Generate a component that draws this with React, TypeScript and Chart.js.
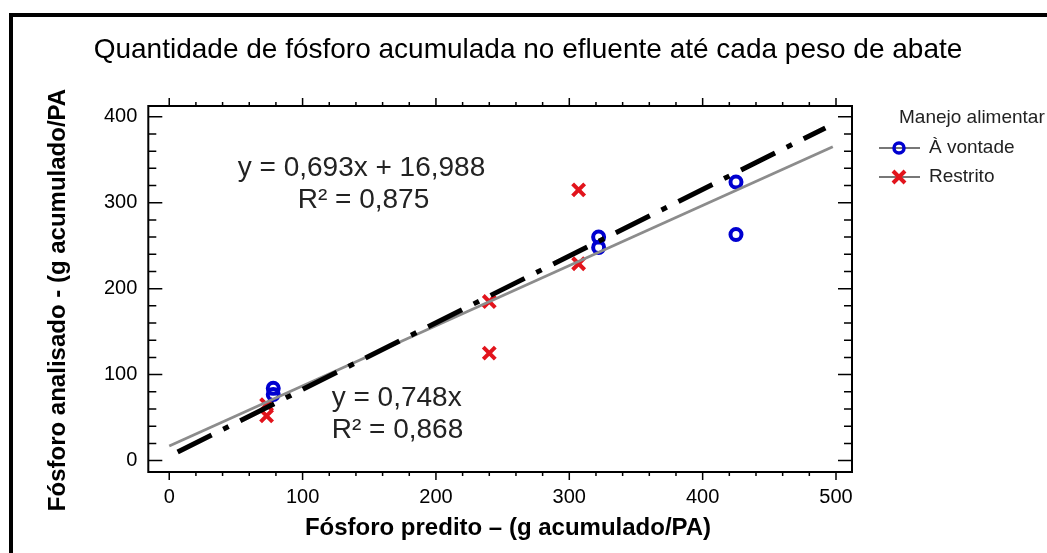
import React, { useEffect, useRef } from 'react';
import { Chart, registerables } from 'chart.js';

Chart.register(...registerables);

// ---------- texts ----------
const TITLE = 'Quantidade de fósforo acumulada no efluente até cada peso de abate';
const X_TITLE = 'Fósforo predito – (g acumulado/PA)';
const Y_TITLE = 'Fósforo analisado - (g acumulado/PA';
const LEGEND_TITLE = 'Manejo alimentar';
const SERIES_NAMES = ['À vontade', 'Restrito'];
const EQ_ALL = ['y = 0,693x + 16,988', 'R² = 0,875'];
const EQ_ORIGIN = ['y = 0,748x', 'R² = 0,868'];

// ---------- axes ----------
const X_TICKS = [0, 100, 200, 300, 400, 500];
const Y_TICKS = [0, 100, 200, 300, 400];
const X_MIN = -15.7;
const X_MAX = 512;
const Y_MIN = -13.3;
const Y_MAX = 412.5;
const MINOR_STEP = 20;

// ---------- data ----------
const VONTADE_X = [78, 78, 322, 322, 425, 425];
const VONTADE_Y = [84, 77, 260, 248, 324, 263];
const RESTRITO_X = [73, 73, 240, 240, 307, 307];
const RESTRITO_Y = [65, 52, 185, 125, 315, 229];

// regression lines (end points as seen in the picture)
const FIT_ALL_X = [0, 497.6];
const FIT_ALL_Y = [17, 365];
const FIT_ORIGIN_X = [6.3, 492];
const FIT_ORIGIN_Y = [10, 387];

// ---------- styles ----------
const FONT = '"Liberation Sans", Arial, Helvetica, sans-serif';
const BLUE = '#0000d0';
const RED = '#e2141c';
const GRAY = '#8c8c8c';

const toPts = (xs: number[], ys: number[]) => xs.map((x, i) => ({ x, y: ys[i] }));

const decorPlugin = {
  id: 'decor',
  afterDraw(chart: any) {
    const { ctx, chartArea: a, scales } = chart;
    const xs = scales.x;
    const ys = scales.y;
    ctx.save();
    // frame
    ctx.strokeStyle = '#000';
    ctx.lineWidth = 2;
    ctx.strokeRect(a.left, a.top, a.right - a.left, a.bottom - a.top);
    // ticks
    ctx.lineWidth = 1.5;
    ctx.beginPath();
    for (let v = 0; v <= X_MAX; v += MINOR_STEP) {
      const px = xs.getPixelForValue(v);
      const major = v % 100 === 0;
      const len = major ? 8 : 4;
      ctx.moveTo(px, a.bottom);
      ctx.lineTo(px, a.bottom + len);
      ctx.moveTo(px, a.top);
      ctx.lineTo(px, a.top - len);
    }
    for (let v = 0; v <= Y_MAX; v += MINOR_STEP) {
      const py = ys.getPixelForValue(v);
      const major = v % 100 === 0;
      const len = major ? 14 : 8;
      ctx.moveTo(a.left, py);
      ctx.lineTo(a.left + len, py);
      ctx.moveTo(a.right, py);
      ctx.lineTo(a.right - len, py);
    }
    ctx.stroke();

    // axis titles
    ctx.fillStyle = '#000';
    ctx.font = `bold 24px ${FONT}`;
    ctx.textAlign = 'center';
    ctx.textBaseline = 'middle';
    ctx.fillText(X_TITLE, 508, 528);
    ctx.save();
    ctx.translate(58, 300);
    ctx.rotate(-Math.PI / 2);
    ctx.fillText(Y_TITLE, 0, 0);
    ctx.restore();

    // equations
    ctx.fillStyle = '#222';
    ctx.font = `28px ${FONT}`;
    ctx.fillText(EQ_ALL[0], 361.5, 168);
    ctx.fillText(EQ_ALL[1], 363.5, 200);
    ctx.fillText(EQ_ORIGIN[0], 396.7, 398);
    ctx.fillText(EQ_ORIGIN[1], 397.5, 430);

    // legend
    ctx.textAlign = 'left';
    ctx.font = `19px ${FONT}`;
    ctx.fillText(LEGEND_TITLE, 899, 118);
    const rows = [148, 177];
    rows.forEach((y, i) => {
      ctx.strokeStyle = '#777';
      ctx.lineWidth = 2;
      ctx.beginPath();
      ctx.moveTo(879, y);
      ctx.lineTo(920, y);
      ctx.stroke();
      if (i === 0) {
        ctx.strokeStyle = BLUE;
        ctx.lineWidth = 3.5;
        ctx.beginPath();
        ctx.arc(899, y, 5, 0, Math.PI * 2);
        ctx.stroke();
      } else {
        ctx.strokeStyle = RED;
        ctx.lineWidth = 4;
        ctx.beginPath();
        ctx.moveTo(893, y - 6);
        ctx.lineTo(905, y + 6);
        ctx.moveTo(905, y - 6);
        ctx.lineTo(893, y + 6);
        ctx.stroke();
      }
      ctx.fillStyle = '#222';
      ctx.fillText(SERIES_NAMES[i], 929, y);
    });
    ctx.restore();
  },
};

export default function App() {
  const ref = useRef<HTMLCanvasElement | null>(null);

  useEffect(() => {
    if (!ref.current) return;
    const chart = new Chart(ref.current, {
      type: 'scatter',
      data: {
        datasets: [
          {
            label: 'fit-origin',
            data: toPts(FIT_ORIGIN_X, FIT_ORIGIN_Y),
            showLine: true,
            borderColor: '#000',
            borderWidth: 5,
            borderDash: [38, 13, 6, 13],
            borderCapStyle: 'butt',
            pointRadius: 0,
            fill: false,
          },
          {
            label: 'fit-all',
            data: toPts(FIT_ALL_X, FIT_ALL_Y),
            showLine: true,
            borderColor: GRAY,
            borderWidth: 2.8,
            pointRadius: 0,
            fill: false,
          },
          {
            label: SERIES_NAMES[0],
            data: toPts(VONTADE_X, VONTADE_Y),
            showLine: false,
            pointStyle: 'circle',
            pointRadius: 5.5,
            pointBorderWidth: 4,
            borderColor: BLUE,
            backgroundColor: 'rgba(0,0,0,0)',
          },
          {
            label: SERIES_NAMES[1],
            data: toPts(RESTRITO_X, RESTRITO_Y),
            showLine: false,
            pointStyle: 'crossRot',
            pointRadius: 8.5,
            pointBorderWidth: 4,
            borderColor: RED,
            backgroundColor: RED,
          },
        ],
      },
      options: {
        animation: false,
        responsive: false,
        devicePixelRatio: 1,
        events: [],
        layout: { padding: { left: 9, right: 0, top: 0, bottom: 0 } },
        plugins: {
          legend: { display: false },
          tooltip: { enabled: false },
          title: {
            display: true,
            text: TITLE,
            color: '#000',
            font: { family: FONT, size: 28, weight: 'normal', lineHeight: 1.2 },
            padding: { top: 33.2, bottom: 39.2 },
          },
        },
        scales: {
          x: {
            type: 'linear',
            position: 'bottom',
            min: X_MIN,
            max: X_MAX,
            grid: { display: false, drawTicks: false },
            border: { display: false },
            afterBuildTicks: (s: any) => {
              s.ticks = X_TICKS.map((v) => ({ value: v }));
            },
            afterFit: (s: any) => {
              s.height = 81;
            },
            ticks: {
              autoSkip: false,
              maxRotation: 0,
              padding: 13,
              color: '#000',
              font: { family: FONT, size: 20 },
              callback: (v: any) => String(v),
            },
          },
          y: {
            type: 'linear',
            position: 'left',
            min: Y_MIN,
            max: Y_MAX,
            grid: { display: false, drawTicks: false },
            border: { display: false },
            afterBuildTicks: (s: any) => {
              s.ticks = Y_TICKS.map((v) => ({ value: v }));
            },
            afterFit: (s: any) => {
              s.width = 139.3;
            },
            ticks: {
              autoSkip: false,
              padding: 11,
              color: '#000',
              font: { family: FONT, size: 20 },
              callback: (v: any) => String(v),
            },
          },
          y2: {
            type: 'linear',
            position: 'right',
            display: true,
            grid: { display: false, drawTicks: false },
            border: { display: false },
            ticks: { display: false },
            afterFit: (s: any) => {
              s.width = 195;
            },
          },
        },
      },
      plugins: [decorPlugin],
    } as any);
    return () => chart.destroy();
  }, []);

  return (
    <div
      style={{
        position: 'fixed',
        left: 0,
        top: 0,
        width: 1047,
        height: 553,
        overflow: 'hidden',
        background: '#fff',
      }}
    >
      <div
        style={{
          position: 'absolute',
          left: 9,
          top: 13,
          width: 1200,
          height: 800,
          border: '4px solid #000',
          boxSizing: 'border-box',
        }}
      />
      <canvas
        ref={ref}
        width={1047}
        height={553}
        style={{ position: 'absolute', left: 0, top: 0, width: 1047, height: 553 }}
      />
    </div>
  );
}
